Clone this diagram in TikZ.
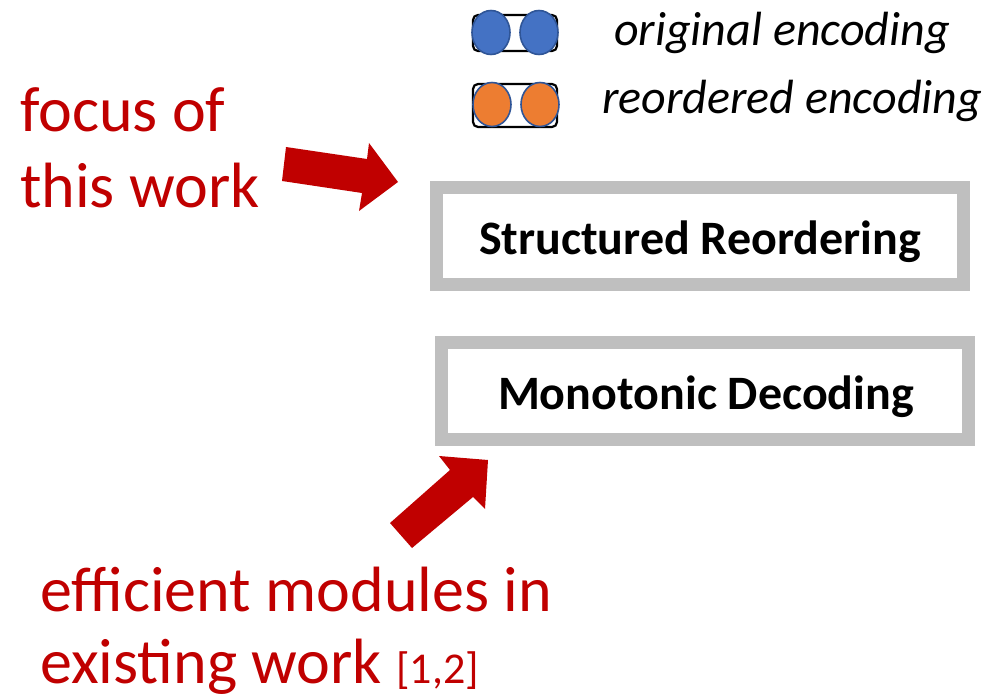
\documentclass[tikz,border=0pt]{standalone}
\usepackage{fontspec}
\setmainfont{Carlito}
\definecolor{darkred}{HTML}{C00000}
\definecolor{boxgray}{HTML}{BFBFBF}
\definecolor{encblue}{HTML}{4472C4}
\definecolor{encorange}{HTML}{ED7D31}
\definecolor{encedge}{HTML}{2F5597}
\begin{document}
\begin{tikzpicture}[x=1pt,y=-1pt,
  modbox/.style={draw=boxgray,line width=13pt,fill=white,minimum width=527pt,minimum height=97pt,inner sep=0pt},
  boxtext/.style={font=\fontsize{48}{56}\selectfont\bfseries,anchor=base,inner sep=0pt},
  redtext/.style={text=darkred,font=\fontsize{64}{75}\selectfont,anchor=base west,inner sep=0pt},
  legtext/.style={font=\fontsize{48}{55}\selectfont\itshape,anchor=base west,inner sep=0pt},
  legframe/.style={draw=black,line width=2.2pt,rounded corners=5pt},
  encdot/.style={draw=encedge,line width=1.6pt},
  blockarrow/.style={fill=darkred,draw=none}]
\useasboundingbox (0,0) rectangle (988,698);
% legend
\draw[legframe] (473,15) rectangle (557,51);
\filldraw[encdot,fill=encblue] (491,32.5) ellipse [x radius=19pt,y radius=22pt];
\filldraw[encdot,fill=encblue] (539,32.5) ellipse [x radius=19pt,y radius=22pt];
\draw[legframe] (473,84) rectangle (557,127);
\filldraw[encdot,fill=encorange] (492,104.5) ellipse [x radius=19pt,y radius=22pt];
\filldraw[encdot,fill=encorange] (540,104.5) ellipse [x radius=19pt,y radius=22pt];
\node[legtext] (leg1) at (614,46) {original encoding};
\node[legtext] (leg2) at (602,114) {reordered encoding};
% boxes
\node[modbox] (sr) at (700,236) {};
\node[boxtext] (srtext) at (700,254) {Structured Reordering};
\node[modbox] (md) at (705,391) {};
\node[boxtext] (mdtext) at (706,409) {Monotonic Decoding};
% red texts
\node[redtext] (focus1) at (20,132) {focus of};
\node[redtext] (focus2) at (20,207) {this work};
\node[redtext] (eff1) at (40,611) {efficient modules in};
\node[redtext] (eff2) at (40,683) {existing work {\fontsize{44}{50}\selectfont[1,2]}};
% block arrows
\fill[blockarrow] (286,147) -- (367,159) -- (369,143) -- (398,182) -- (359,211) -- (362,193) -- (282,181) -- cycle;
\fill[blockarrow] (390,523) -- (412,548) -- (473,497) -- (485,509) -- (488,460) -- (439,456) -- (450,470) -- cycle;
\end{tikzpicture}
\end{document}
